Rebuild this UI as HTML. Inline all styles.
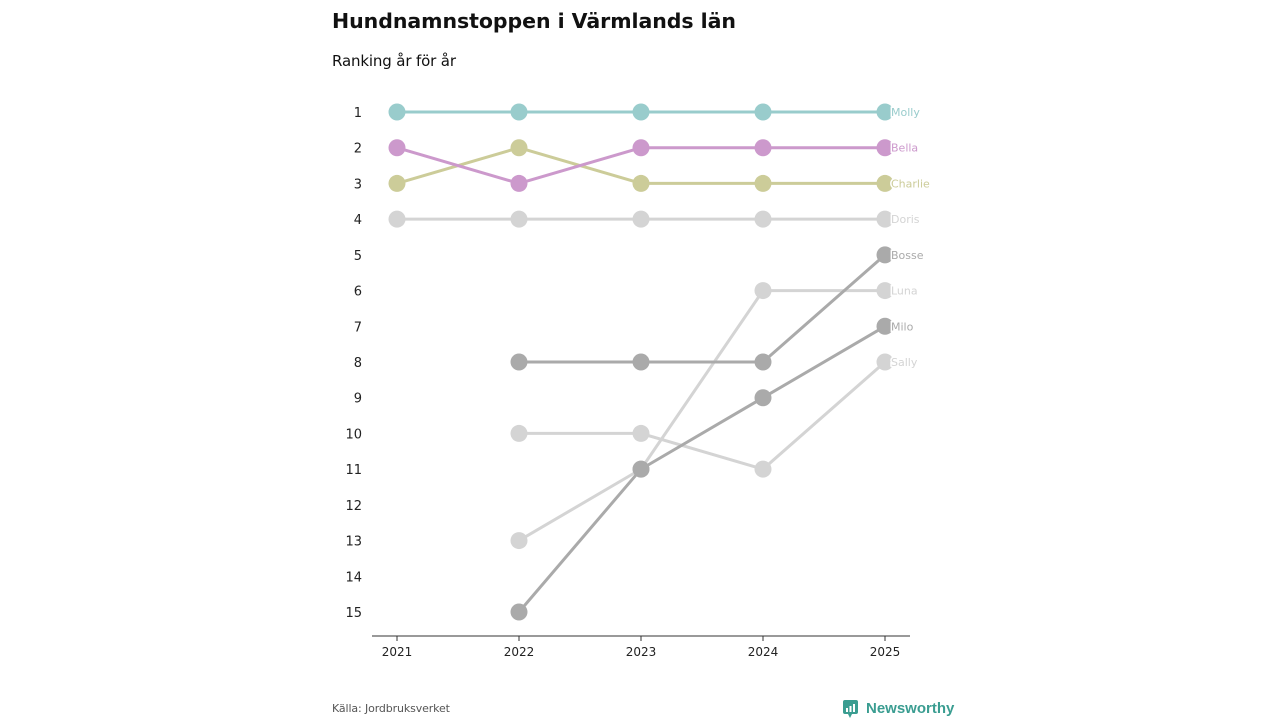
<!DOCTYPE html>
<html><head><meta charset="utf-8"><style>
body{margin:0;background:#fff;font-family:"Liberation Sans","DejaVu Sans",sans-serif;}
svg text{font-family:"DejaVu Sans","Liberation Sans",sans-serif;}
</style></head><body>
<svg width="1280" height="720" id="c">
<text x="332" y="28" font-size="20.5" font-weight="bold" fill="#111" textLength="404">Hundnamnstoppen i Värmlands län</text>
<text x="332" y="66" font-size="15" fill="#111" textLength="124">Ranking år för år</text>
<line x1="372" x2="910" y1="636" y2="636" stroke="#333" stroke-width="1"/>
<text x="332" y="712" font-size="11" fill="#555" textLength="118">Källa: Jordbruksverket</text>
<g>
<rect x="843" y="700" width="15" height="14" rx="2" fill="#3a9d91"/>
<polygon points="848,714 852,714 850,718" fill="#3a9d91"/>
<rect x="846" y="708" width="2" height="4" fill="#fff"/><rect x="849.5" y="706" width="2" height="6" fill="#fff"/><rect x="853" y="704" width="2" height="8" fill="#fff"/>
<text x="866" y="713" font-size="15" font-weight="bold" fill="#3a9d91" style="font-family:'Liberation Sans',sans-serif">Newsworthy</text>
</g>
<g id="plot"></g>
</svg>
<script>
const years=[2021,2022,2023,2024,2025];
const names=["Molly","Bella","Charlie","Doris","Bosse","Luna","Milo","Sally"];
const molly=[1,1,1,1,1];
const bella=[2,3,2,2,2];
const charlie=[3,2,3,3,3];
const doris=[4,4,4,4,4];
const bosse=[null,8,8,8,5];
const luna=[null,13,11,6,6];
const milo=[null,15,11,9,7];
const sally=[null,10,10,11,8];
const rankTicks=[1,2,3,4,5,6,7,8,9,10,11,12,13,14,15];
const series=[molly,bella,charlie,doris,bosse,luna,milo,sally];
const colors=["#99cccc","#cc99cc","#cccc99","#d4d4d4","#aaaaaa","#d4d4d4","#aaaaaa","#d4d4d4"];
const x=i=>397+i*122;
const y=r=>112+(r-1)*(500/14);
const NS="http://www.w3.org/2000/svg";
const g=document.getElementById('plot');
function mk(t,a){const e=document.createElementNS(NS,t);for(const k in a)e.setAttribute(k,a[k]);g.appendChild(e);return e;}
rankTicks.forEach(r=>{const t=mk('text',{x:362,y:y(r)+5,'font-size':13,fill:'#222','text-anchor':'end'});t.textContent=r;

});
years.forEach((yr,i)=>{const l=mk('line',{x1:x(i),x2:x(i),y1:636,y2:641,stroke:'#333'});


const t=mk('text',{x:x(i),y:656,'font-size':12,fill:'#222','text-anchor':'middle'});t.textContent=yr;

});
const order=[3,5,7,4,6,2,1,0];
order.forEach(s=>{const d=series[s];let pts=[];d.forEach((v,i)=>{if(v!=null)pts.push(x(i)+','+y(v));});
const p=mk('polyline',{points:pts.join(' '),fill:'none',stroke:colors[s],'stroke-width':3});


d.forEach((v,i)=>{if(v==null)return;const c=mk('circle',{cx:x(i),cy:y(v),r:8.5,fill:colors[s]});

});
const t=mk('text',{x:891,y:y(d[4])+4,'font-size':11,fill:colors[s],stroke:'#fff','stroke-width':3,'paint-order':'stroke'});t.textContent=names[s];

});
</script>
</body></html>
